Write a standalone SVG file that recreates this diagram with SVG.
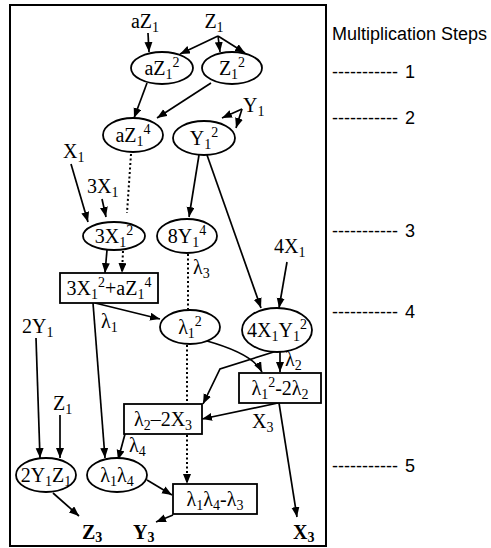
<svg xmlns="http://www.w3.org/2000/svg" width="491" height="548" viewBox="0 0 491 548">
  <style>
    .t { font-family: "Liberation Serif", "Times New Roman", serif; font-size: 20px; fill: #000; }
    .m { text-anchor: middle; }
    .b { font-weight: bold; }
    .s { font-size: 14px; }
    .side { font-family: "Liberation Sans", Arial, sans-serif; font-size: 18px; fill: #000; }
    .node { fill: #fff; stroke: #000; stroke-width: 1.8; }
    .edge { fill: none; stroke: #000; stroke-width: 1.7; }
    .dot { fill: none; stroke: #000; stroke-width: 2; stroke-dasharray: 2 2.5; }
  </style>
  <defs>
    <marker id="arrow" markerUnits="userSpaceOnUse" markerWidth="11" markerHeight="9" refX="10" refY="4" orient="auto">
      <path d="M0,0 L10,4 L0,8 z" fill="#000"/>
    </marker>
  </defs>

  <rect x="0" y="0" width="491" height="548" fill="#fff"/>
  <!-- frame -->
  <rect x="10" y="5" width="316" height="541" fill="none" stroke="#000" stroke-width="2"/>

  <!-- connectors -->
  <g id="connectors">
    <line class="edge" x1="148" y1="33" x2="149" y2="52" marker-end="url(#arrow)"/>
    <line class="edge" x1="218" y1="36" x2="180" y2="54" marker-end="url(#arrow)"/>
    <line class="edge" x1="218" y1="36" x2="220" y2="52" marker-end="url(#arrow)"/>
    <line class="edge" x1="218" y1="36" x2="245" y2="53" marker-end="url(#arrow)"/>
    <line class="edge" x1="147" y1="83" x2="134" y2="118" marker-end="url(#arrow)"/>
    <line class="edge" x1="211" y1="83" x2="157" y2="118" marker-end="url(#arrow)"/>
    <line class="edge" x1="242" y1="109" x2="222" y2="118" marker-end="url(#arrow)"/>
    <line class="edge" x1="242" y1="109" x2="236" y2="128" marker-end="url(#arrow)"/>
    <line class="dot" x1="131" y1="154" x2="127" y2="213"/>
    <line class="edge" x1="71" y1="164" x2="88" y2="222" marker-end="url(#arrow)"/>
    <line class="edge" x1="102" y1="199" x2="106" y2="217" marker-end="url(#arrow)"/>
    <line class="edge" x1="107" y1="250" x2="105" y2="273" marker-end="url(#arrow)"/>
    <line class="dot" x1="123" y1="251" x2="122" y2="273" marker-end="url(#arrow)"/>
    <line class="edge" x1="199" y1="155" x2="189" y2="217" marker-end="url(#arrow)"/>
    <line class="edge" x1="207" y1="155" x2="261" y2="308" marker-end="url(#arrow)"/>
    <line class="edge" x1="287" y1="262" x2="279" y2="308" marker-end="url(#arrow)"/>
    <line class="dot" x1="188" y1="254" x2="188" y2="309"/>
    <line class="edge" x1="95" y1="303" x2="160" y2="319" marker-end="url(#arrow)"/>
    <line class="edge" x1="93" y1="303" x2="105" y2="458" marker-end="url(#arrow)"/>
    <path class="edge" d="M207,341 Q253,354 262,372" marker-end="url(#arrow)"/>
    <line class="edge" x1="280" y1="350" x2="280" y2="372" marker-end="url(#arrow)"/>
    <polyline class="edge" points="280,350 220,369 203,404" marker-end="url(#arrow)"/>
    <line class="edge" x1="278" y1="403" x2="202" y2="419" marker-end="url(#arrow)"/>
    <line class="edge" x1="279" y1="403" x2="297" y2="517" marker-end="url(#arrow)"/>
    <line class="dot" x1="187" y1="345" x2="187" y2="484" marker-end="url(#arrow)"/>
    <line class="edge" x1="125" y1="434" x2="118" y2="460" marker-end="url(#arrow)"/>
    <line class="edge" x1="36" y1="338" x2="40" y2="458" marker-end="url(#arrow)"/>
    <line class="edge" x1="60" y1="415" x2="60" y2="458" marker-end="url(#arrow)"/>
    <line class="edge" x1="53" y1="493" x2="79" y2="516" marker-end="url(#arrow)"/>
    <line class="edge" x1="147" y1="480" x2="172" y2="495" marker-end="url(#arrow)"/>
    <line class="edge" x1="173" y1="515" x2="156" y2="522" marker-end="url(#arrow)"/>
  </g>

  <!-- inputs -->
  <g id="in-aZ1"><text class="t m" x="145" y="28">aZ<tspan class="s" dy="4">1</tspan></text></g>
  <g id="in-Z1"><text class="t m" x="214" y="28">Z<tspan class="s" dy="4">1</tspan></text></g>
  <g id="in-Y1"><text class="t" x="243" y="112">Y<tspan class="s" dy="4">1</tspan></text></g>
  <g id="in-X1"><text class="t" x="63" y="158">X<tspan class="s" dy="4">1</tspan></text></g>
  <g id="in-3X1"><text class="t" x="87" y="193">3X<tspan class="s" dy="4">1</tspan></text></g>
  <g id="in-4X1"><text class="t" x="274" y="253">4X<tspan class="s" dy="4">1</tspan></text></g>
  <g id="in-2Y1"><text class="t" x="22" y="333">2Y<tspan class="s" dy="4">1</tspan></text></g>
  <g id="in-Z1b"><text class="t" x="53" y="410">Z<tspan class="s" dy="4">1</tspan></text></g>

  <!-- edge labels -->
  <g id="lbl-l3"><text class="t" x="193" y="274">λ<tspan class="s" dy="4">3</tspan></text></g>
  <g id="lbl-l1"><text class="t" x="101" y="328">λ<tspan class="s" dy="4">1</tspan></text></g>
  <g id="lbl-l2"><text class="t" x="285" y="366">λ<tspan class="s" dy="4">2</tspan></text></g>
  <g id="lbl-X3"><text class="t" x="252" y="428">X<tspan class="s" dy="4">3</tspan></text></g>
  <g id="lbl-l4"><text class="t" x="129" y="452">λ<tspan class="s" dy="4">4</tspan></text></g>

  <!-- step 1 -->
  <g id="aZ1sq">
    <ellipse class="node" cx="162" cy="68" rx="31" ry="16"/>
    <text class="t m" x="162" y="75">aZ<tspan class="s" dy="4">1</tspan><tspan class="s" dy="-12">2</tspan></text>
  </g>
  <g id="Z1sq">
    <ellipse class="node" cx="232" cy="68" rx="30" ry="16"/>
    <text class="t m" x="232" y="75">Z<tspan class="s" dy="4">1</tspan><tspan class="s" dy="-12">2</tspan></text>
  </g>

  <!-- step 2 -->
  <g id="aZ1p4">
    <ellipse class="node" cx="133" cy="135" rx="30" ry="17"/>
    <text class="t m" x="133" y="142">aZ<tspan class="s" dy="4">1</tspan><tspan class="s" dy="-12">4</tspan></text>
  </g>
  <g id="Y1sq">
    <ellipse class="node" cx="204" cy="138" rx="31" ry="17"/>
    <text class="t m" x="204" y="145">Y<tspan class="s" dy="4">1</tspan><tspan class="s" dy="-12">2</tspan></text>
  </g>

  <!-- step 3 -->
  <g id="X3sq">
    <ellipse class="node" cx="114" cy="236" rx="31" ry="14"/>
    <text class="t m" x="114" y="243">3X<tspan class="s" dy="4">1</tspan><tspan class="s" dy="-12">2</tspan></text>
  </g>
  <g id="Y8p4">
    <ellipse class="node" cx="187" cy="236" rx="30" ry="17"/>
    <text class="t m" x="187" y="243">8Y<tspan class="s" dy="4">1</tspan><tspan class="s" dy="-12">4</tspan></text>
  </g>
  <g id="lambda1">
    <rect class="node" x="60" y="273" width="98" height="30"/>
    <text class="t m" x="109" y="295">3X<tspan class="s" dy="4">1</tspan><tspan class="s" dy="-12">2</tspan><tspan dy="8">+aZ</tspan><tspan class="s" dy="4">1</tspan><tspan class="s" dy="-12">4</tspan></text>
  </g>

  <!-- step 4 -->
  <g id="l1sq">
    <ellipse class="node" cx="190" cy="327" rx="30" ry="17"/>
    <text class="t m" x="190" y="334">λ<tspan class="s" dy="4">1</tspan><tspan class="s" dy="-12">2</tspan></text>
  </g>
  <g id="S4XY">
    <ellipse class="node" cx="277" cy="330" rx="35" ry="22"/>
    <text class="t m" x="277" y="337">4X<tspan class="s" dy="4">1</tspan><tspan dy="-4">Y</tspan><tspan class="s" dy="4">1</tspan><tspan class="s" dy="-12">2</tspan></text>
  </g>
  <g id="X3calc">
    <rect class="node" x="239" y="373" width="82" height="30"/>
    <text class="t m" x="280" y="395">λ<tspan class="s" dy="4">1</tspan><tspan class="s" dy="-12">2</tspan><tspan dy="8">-2λ</tspan><tspan class="s" dy="4">2</tspan></text>
  </g>
  <g id="lambda4">
    <rect class="node" x="124" y="404" width="78" height="30"/>
    <text class="t m" x="163" y="426">λ<tspan class="s" dy="4">2</tspan><tspan dy="-4">–2X</tspan><tspan class="s" dy="4">3</tspan></text>
  </g>

  <!-- step 5 -->
  <g id="Z3calc">
    <ellipse class="node" cx="46" cy="475" rx="30" ry="17"/>
    <text class="t m" x="46" y="482">2Y<tspan class="s" dy="4">1</tspan><tspan dy="-4">Z</tspan><tspan class="s" dy="4">1</tspan></text>
  </g>
  <g id="l1l4">
    <ellipse class="node" cx="117" cy="475" rx="30" ry="17"/>
    <text class="t m" x="117" y="482">λ<tspan class="s" dy="4">1</tspan><tspan dy="-4">λ</tspan><tspan class="s" dy="4">4</tspan></text>
  </g>
  <g id="Y3calc">
    <rect class="node" x="173" y="484" width="84" height="30"/>
    <text class="t m" x="215" y="506">λ<tspan class="s" dy="4">1</tspan><tspan dy="-4">λ</tspan><tspan class="s" dy="4">4</tspan><tspan dy="-4">-λ</tspan><tspan class="s" dy="4">3</tspan></text>
  </g>

  <!-- outputs -->
  <g id="out-Z3"><text class="t b" x="82" y="539">Z<tspan class="s" dy="3">3</tspan></text></g>
  <g id="out-Y3"><text class="t b" x="133" y="539">Y<tspan class="s" dy="3">3</tspan></text></g>
  <g id="out-X3"><text class="t b" x="293" y="539">X<tspan class="s" dy="3">3</tspan></text></g>

  <!-- step scale -->
  <g id="steps">
    <text class="side" x="332" y="40">Multiplication Steps</text>
    <text class="side" x="332" y="78">----------- <tspan x="405">1</tspan></text>
    <text class="side" x="332" y="124">----------- <tspan x="405">2</tspan></text>
    <text class="side" x="332" y="237">----------- <tspan x="405">3</tspan></text>
    <text class="side" x="332" y="318">----------- <tspan x="405">4</tspan></text>
    <text class="side" x="332" y="472">----------- <tspan x="405">5</tspan></text>
  </g>
</svg>
